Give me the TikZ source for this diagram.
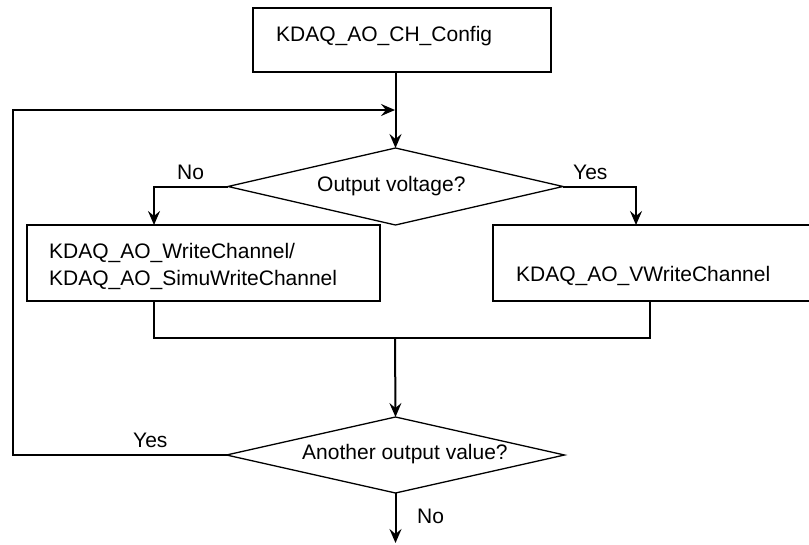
\documentclass[tikz,border=0pt]{standalone}
\usepackage{fontspec}
\setmainfont{Liberation Sans}
\usetikzlibrary{shapes.geometric,arrows.meta}
\begin{document}
\begin{tikzpicture}[x=1pt,y=-1pt,
  box/.style={draw,line width=1.3pt,rectangle,inner sep=0pt,outer sep=0pt},
  dia/.style={draw,line width=1.3pt,diamond,inner sep=0pt,outer sep=0pt},
  txt/.style={anchor=base west,inner sep=0pt,font=\fontsize{21}{25}\selectfont},
  flow/.style={line width=2pt,-{Stealth[length=14pt,width=12pt,inset=5pt]}},
  plain/.style={line width=1.3pt}]
\useasboundingbox (0,0) rectangle (809,544);
% shapes
\node[box,minimum width=298pt,minimum height=64pt] (top) at (402,40) {};
\node[dia,minimum width=335pt,minimum height=77pt] (d1) at (395.5,186.5) {};
\node[box,minimum width=353pt,minimum height=76pt] (L) at (203.5,263) {};
\node[box,minimum width=340pt,minimum height=76pt] (R) at (663,263) {};
\node[dia,minimum width=338pt,minimum height=76pt] (d2) at (395.5,455) {};
% texts
\node[txt] (ttop) at (276,41) {KDAQ\_AO\_CH\_Config};
\node[txt] (td1) at (317,191) {Output voltage?};
\node[txt] (tL1) at (49,258.5) {KDAQ\_AO\_WriteChannel/};
\node[txt] (tL2) at (49,285.5) {KDAQ\_AO\_SimuWriteChannel};
\node[txt] (tR) at (516,281) {KDAQ\_AO\_VWriteChannel};
\node[txt] (td2) at (302,459) {Another output value?};
\node[txt] (no1) at (177,179) {No};
\node[txt] (yes1) at (573,179) {Yes};
\node[txt] (yes2) at (133,447) {Yes};
\node[txt] (no2) at (417,523) {No};
% coordinates
\coordinate (join) at (395,110);
\coordinate (loop) at (13,110);
\coordinate (m) at (395,338);
\coordinate (Lt) at ([xshift=-49.5pt]L.north);
\coordinate (Rt) at ([xshift=-27pt]R.north);
\coordinate (Lb) at ([xshift=-49.5pt]L.south);
\coordinate (Rb) at ([xshift=-13pt]R.south);
\coordinate (fin) at (395.5,543);
% connectors
\draw[flow] (top.south -| d1.north) -- (d1.north);
\draw[flow] (d1.west) -| (Lt);
\draw[flow] (d1.east) -| (Rt);
\draw[plain] (Lb) |- (Rb |- m) -- (Rb);
\draw[flow] (m) -- (d2.north);
\draw[flow] (d2.west) -| (loop) -- (join);
\draw[flow] (d2.south) -- (fin);
\end{tikzpicture}
\end{document}
